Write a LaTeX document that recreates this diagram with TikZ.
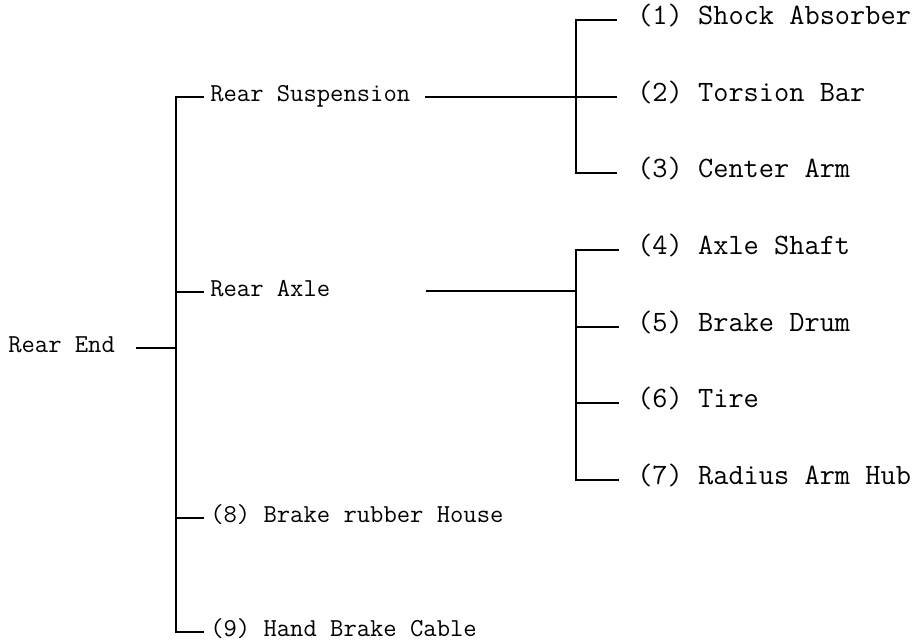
\documentclass[tikz,border=0pt]{standalone}
\usepackage{xcolor}
\usepackage{tikz}
\usetikzlibrary{calc}
\newcommand{\partfont}{\fontsize{18.4}{20}\selectfont\ttfamily}
\newcommand{\leaffont}{\fontsize{21}{23}\selectfont\ttfamily}
\tikzset{
  part/.style={font=\partfont, inner sep=0pt, anchor=west, text height=1.42ex, text depth=0pt},
  leaf/.style={font=\leaffont, inner sep=0pt, anchor=west, text height=1.42ex, text depth=0pt},
  tree/.style={line width=1.1pt, line cap=rect},
}
\begin{document}
\begin{tikzpicture}[x=0.025cm, y=-0.025cm]
  \useasboundingbox (0,0) rectangle (922,644);

  %% first level
  \node[part] (rearend) at (8,348) {Rear End};
  \node[part] (susp) at (210,97) {Rear Suspension};
  \node[part] (axle) at (210,292) {Rear Axle};
  \node[part] (hose) at (210,518) {(8) Brake rubber House};
  \node[part] (cable) at (210,632) {(9) Hand Brake Cable};

  %% second level
  \node[leaf] (p1) at (637,20) {(1) Shock Absorber};
  \node[leaf] (p2) at (637,97) {(2) Torsion Bar};
  \node[leaf] (p3) at (637,173) {(3) Center Arm};
  \node[leaf] (p4) at (637,250) {(4) Axle Shaft};
  \node[leaf] (p5) at (637,327) {(5) Brake Drum};
  \node[leaf] (p6) at (637,403) {(6) Tire};
  \node[leaf] (p7) at (637,480) {(7) Radius Arm Hub};

  %% junctions
  \coordinate (trunk) at (176,348);
  \coordinate (sj) at (576,97);
  \coordinate (aj) at (576,291);
  \coordinate (axlestub) at (427,291);

  %% main trunk
  \draw[tree] ($(rearend.east)+(22,0)$) -- (trunk);
  \draw[tree] ($(susp.west)+(-7,0)$) -| (trunk |- cable.west) -- ($(cable.west)+(-7,0)$);
  \draw[tree] (trunk |- axle.west) -- ($(axle.west)+(-7,0)$);
  \draw[tree] (trunk |- hose.west) -- ($(hose.west)+(-7,0)$);

  %% suspension branch
  \draw[tree] ($(susp.east)+(15,0)$) -- ($(p2.west)+(-21,0)$);
  \draw[tree] ($(p1.west)+(-21,0)$) -| (sj |- p3.west) -- ($(p3.west)+(-21,0)$);

  %% axle branch
  \draw[tree] (axlestub) -- (aj);
  \draw[tree] ($(p4.west)+(-19,0)$) -| (aj |- p7.west) -- ($(p7.west)+(-19,0)$);
  \foreach \p in {p5,p6}{
    \draw[tree] (aj |- \p.west) -- ($(\p.west)+(-19,0)$);
  }

\end{tikzpicture}
\end{document}
